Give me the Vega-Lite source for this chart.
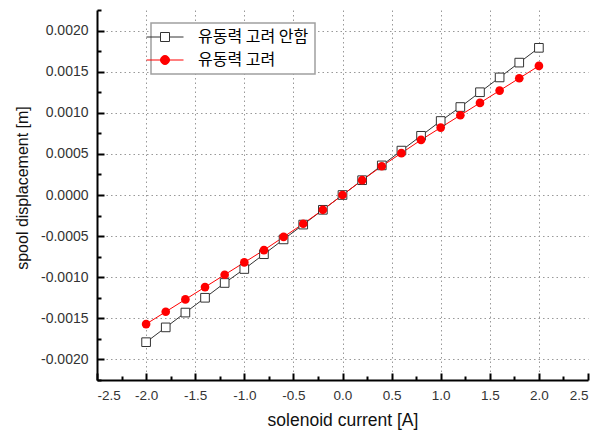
{
  "$schema": "https://vega.github.io/schema/vega-lite/v6.json",
  "width": 491,
  "height": 370,
  "autosize": {"type": "none"},
  "padding": {"left": 97, "top": 10, "right": 20, "bottom": 52},
  "background": "white",
  "config": {
    "view": {"stroke": null},
    "font": "Liberation Sans",
    "legend": {"strokeWidth": 1.5},
    "axis": {
      "domainColor": "#000000",
      "domainWidth": 2,
      "tickColor": "#000000",
      "tickWidth": 2,
      "labelFont": "Liberation Sans",
      "labelFontSize": 14,
      "labelColor": "#333333",
      "titleFont": "Liberation Sans",
      "titleFontWeight": "normal",
      "titleColor": "#111111",
      "gridColor": "#999999",
      "gridDash": [1.5, 3],
      "gridWidth": 1
    }
  },
  "data": {
    "values": [
      {"current": -2.0, "disp": -0.00179, "series": "유동력 고려 안함"},
      {"current": -1.8, "disp": -0.00161, "series": "유동력 고려 안함"},
      {"current": -1.6, "disp": -0.00143, "series": "유동력 고려 안함"},
      {"current": -1.4, "disp": -0.00125, "series": "유동력 고려 안함"},
      {"current": -1.2, "disp": -0.00107, "series": "유동력 고려 안함"},
      {"current": -1.0, "disp": -0.00090, "series": "유동력 고려 안함"},
      {"current": -0.8, "disp": -0.00072, "series": "유동력 고려 안함"},
      {"current": -0.6, "disp": -0.00054, "series": "유동력 고려 안함"},
      {"current": -0.4, "disp": -0.00036, "series": "유동력 고려 안함"},
      {"current": -0.2, "disp": -0.00018, "series": "유동력 고려 안함"},
      {"current": 0.0, "disp": 0.0, "series": "유동력 고려 안함"},
      {"current": 0.2, "disp": 0.00018, "series": "유동력 고려 안함"},
      {"current": 0.4, "disp": 0.00036, "series": "유동력 고려 안함"},
      {"current": 0.6, "disp": 0.00054, "series": "유동력 고려 안함"},
      {"current": 0.8, "disp": 0.00072, "series": "유동력 고려 안함"},
      {"current": 1.0, "disp": 0.00090, "series": "유동력 고려 안함"},
      {"current": 1.2, "disp": 0.00107, "series": "유동력 고려 안함"},
      {"current": 1.4, "disp": 0.00125, "series": "유동력 고려 안함"},
      {"current": 1.6, "disp": 0.00143, "series": "유동력 고려 안함"},
      {"current": 1.8, "disp": 0.00161, "series": "유동력 고려 안함"},
      {"current": 2.0, "disp": 0.00179, "series": "유동력 고려 안함"},
      {"current": -2.0, "disp": -0.00157, "series": "유동력 고려"},
      {"current": -1.8, "disp": -0.00142, "series": "유동력 고려"},
      {"current": -1.6, "disp": -0.00127, "series": "유동력 고려"},
      {"current": -1.4, "disp": -0.00112, "series": "유동력 고려"},
      {"current": -1.2, "disp": -0.00097, "series": "유동력 고려"},
      {"current": -1.0, "disp": -0.00082, "series": "유동력 고려"},
      {"current": -0.8, "disp": -0.00067, "series": "유동력 고려"},
      {"current": -0.6, "disp": -0.00051, "series": "유동력 고려"},
      {"current": -0.4, "disp": -0.00035, "series": "유동력 고려"},
      {"current": -0.2, "disp": -0.00018, "series": "유동력 고려"},
      {"current": 0.0, "disp": 0.0, "series": "유동력 고려"},
      {"current": 0.2, "disp": 0.00018, "series": "유동력 고려"},
      {"current": 0.4, "disp": 0.00035, "series": "유동력 고려"},
      {"current": 0.6, "disp": 0.00051, "series": "유동력 고려"},
      {"current": 0.8, "disp": 0.00067, "series": "유동력 고려"},
      {"current": 1.0, "disp": 0.00082, "series": "유동력 고려"},
      {"current": 1.2, "disp": 0.00097, "series": "유동력 고려"},
      {"current": 1.4, "disp": 0.00112, "series": "유동력 고려"},
      {"current": 1.6, "disp": 0.00127, "series": "유동력 고려"},
      {"current": 1.8, "disp": 0.00142, "series": "유동력 고려"},
      {"current": 2.0, "disp": 0.00157, "series": "유동력 고려"}
    ]
  },
  "resolve": {"axis": {"x": "independent", "y": "independent"}},
  "layer": [
    {
      "mark": {"type": "line", "strokeWidth": 1},
      "encoding": {
        "x": {
          "field": "current",
          "type": "quantitative",
          "scale": {"domain": [-2.5, 2.5], "nice": false, "zero": false},
          "axis": {
            "orient": "bottom",
            "title": "solenoid current [A]",
            "titleFontSize": 17.5,
            "titlePadding": 10,
            "values": [-2.5, -2.0, -1.5, -1.0, -0.5, 0, 0.5, 1.0, 1.5, 2.0, 2.5],
            "labelExpr": "replace(format(datum.value, '.1f'), '−', '-')",
            "tickSize": -7,
            "labelPadding": 15,
            "labelFontSize": 13.5,
            "grid": true,
            "gridOpacity": {"condition": {"test": "abs(datum.value) > 2.4", "value": 0}, "value": 1}
          }
        },
        "y": {
          "field": "disp",
          "type": "quantitative",
          "scale": {"domain": [-0.00225, 0.00225], "nice": false, "zero": false},
          "axis": {
            "orient": "left",
            "title": "spool displacement [m]",
            "titleFontSize": 16,
            "titlePadding": 10,
            "titleY": 177.5,
            "values": [-0.002, -0.0015, -0.001, -0.0005, 0, 0.0005, 0.001, 0.0015, 0.002],
            "labelExpr": "replace(format(datum.value, '.4f'), '−', '-')",
            "tickSize": -7,
            "labelPadding": 16,
            "grid": true
          }
        },
        "color": {
          "field": "series",
          "type": "nominal",
          "scale": {"domain": ["유동력 고려 안함", "유동력 고려"], "range": ["#333333", "#ff0000"]},
          "legend": {
            "title": null,
            "orient": "none",
            "legendX": 54,
            "legendY": 13,
            "padding": 6,
            "strokeColor": "#a0a0a0",
            "fillColor": "#ffffff",
            "labelFont": "Noto Sans CJK KR",
            "labelFontSize": 16,
            "labelColor": "#000000",
            "labelOffset": 25,
            "rowPadding": 7,
            "symbolSize": 100,
            "encode": {
              "symbols": {
                "update": {
                  "shape": {"signal": "datum.value == '유동력 고려' ? 'M-3.7,0H3.7M0.9,0A0.9,0.9,0,1,1,-0.9,0A0.9,0.9,0,1,1,0.9,0Z' : 'M-3.7,0H-0.9M0.9,0H3.7M-0.9,-0.9H0.9V0.9H-0.9Z'"},
                  "fill": {"signal": "datum.value == '유동력 고려' ? '#ff0000' : '#ffffff'"},
                  "strokeWidth": {"value": 1},
                  "opacity": {"value": 1}
                }
              }
            }
          }
        }
      }
    },
    {
      "transform": [{"filter": "datum.series == '유동력 고려 안함'"}],
      "mark": {"type": "point", "shape": "square", "filled": true, "fill": "#ffffff", "stroke": "#333333", "strokeWidth": 1, "size": 75, "opacity": 1},
      "encoding": {
        "x": {
          "field": "current",
          "type": "quantitative",
          "axis": {
            "orient": "bottom",
            "title": null,
            "values": [-2.25, -1.75, -1.25, -0.75, -0.25, 0.25, 0.75, 1.25, 1.75, 2.25],
            "labels": false,
            "domain": false,
            "grid": false,
            "tickSize": -4
          }
        },
        "y": {
          "field": "disp",
          "type": "quantitative",
          "axis": {
            "orient": "left",
            "title": null,
            "values": [-0.00225, -0.00175, -0.00125, -0.00075, -0.00025, 0.00025, 0.00075, 0.00125, 0.00175, 0.00225],
            "labels": false,
            "domain": false,
            "grid": false,
            "tickSize": -4
          }
        }
      }
    },
    {
      "transform": [{"filter": "datum.series == '유동력 고려'"}],
      "mark": {"type": "point", "shape": "circle", "filled": true, "fill": "#ff0000", "stroke": "#ff0000", "strokeWidth": 0, "size": 75, "opacity": 1},
      "encoding": {
        "x": {"field": "current", "type": "quantitative", "axis": null},
        "y": {"field": "disp", "type": "quantitative", "axis": null}
      }
    }
  ]
}
